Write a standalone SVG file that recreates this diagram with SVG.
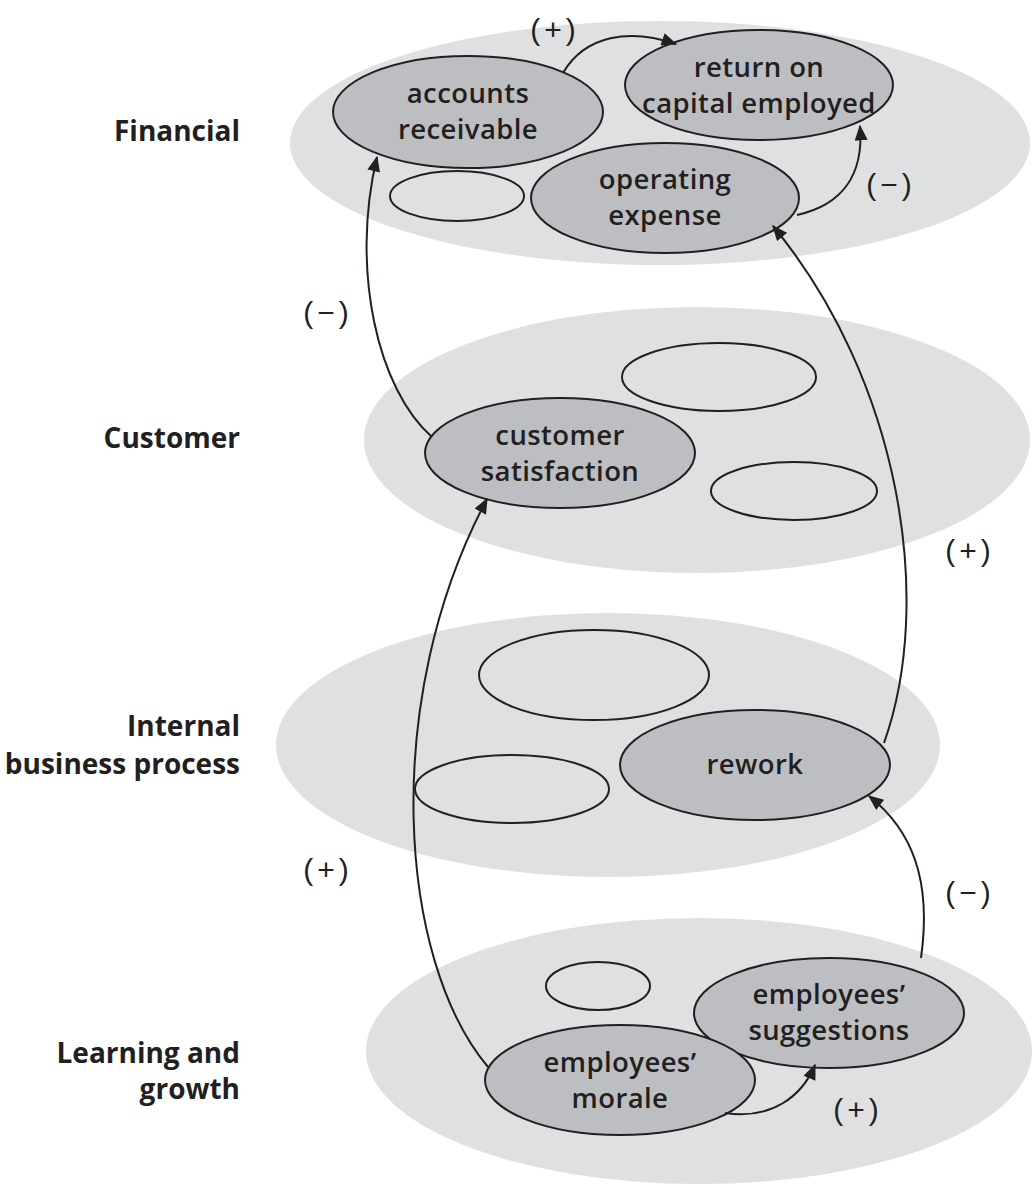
<svg xmlns="http://www.w3.org/2000/svg" width="1032" height="1185" viewBox="0 0 1032 1185">
<defs>
<style>
.layer{fill:#dfe0e1;stroke:none}
.node{fill:#bdbec1;stroke:#231f20;stroke-width:2}
.blank{fill:none;stroke:#231f20;stroke-width:2}
.nt{font-family:"Open Sans","Liberation Sans",sans-serif;font-size:27.5px;font-weight:600;letter-spacing:0.4px;fill:#231f20;text-anchor:middle}
.lt{font-family:"Open Sans","Liberation Sans",sans-serif;font-weight:bold;font-size:28px;fill:#231f20;text-anchor:end}
.sg{font-family:"Liberation Sans",sans-serif;font-size:30px;fill:#231f20;text-anchor:middle;letter-spacing:4px}
.conn{fill:none;stroke:#231f20;stroke-width:2}
</style>
<marker id="arrow" viewBox="0 0 12 10" refX="11" refY="5" markerWidth="16" markerHeight="13" markerUnits="userSpaceOnUse" orient="auto">
<path d="M0,0 L12,5 L0,10 Z" fill="#231f20"/>
</marker>
</defs>
<rect width="1032" height="1185" fill="#ffffff"/>
<g id="layers">
<ellipse class="layer" cx="660" cy="143" rx="370" ry="122"/>
<ellipse class="layer" cx="697" cy="440" rx="333" ry="133"/>
<ellipse class="layer" cx="608" cy="745" rx="332" ry="132"/>
<ellipse class="layer" cx="699" cy="1051" rx="333" ry="133"/>
</g>
<g id="layer-labels">
<text class="lt" x="240" y="141">Financial</text>
<text class="lt" x="240" y="448">Customer</text>
<text class="lt" x="240" y="736">Internal</text>
<text class="lt" x="240" y="774">business process</text>
<text class="lt" x="240" y="1063">Learning and</text>
<text class="lt" x="240" y="1099">growth</text>
</g>
<g id="node-accounts-receivable">
<ellipse class="node" cx="468" cy="112" rx="135" ry="56"/>
<text class="nt" x="468" y="103">accounts</text>
<text class="nt" x="468" y="139">receivable</text>
</g>
<g id="node-roce">
<ellipse class="node" cx="759" cy="85" rx="134" ry="55"/>
<text class="nt" x="759" y="77">return on</text>
<text class="nt" x="759" y="113">capital employed</text>
</g>
<g id="node-blank-f">
<ellipse class="blank" cx="457" cy="196" rx="67" ry="25"/>
</g>
<g id="node-operating-expense">
<ellipse class="node" cx="665" cy="198" rx="134" ry="55"/>
<text class="nt" x="665" y="189">operating</text>
<text class="nt" x="665" y="225">expense</text>
</g>
<g id="node-blank-c1">
<ellipse class="blank" cx="719" cy="377" rx="97" ry="34"/>
</g>
<g id="node-customer-satisfaction">
<ellipse class="node" cx="560" cy="453" rx="135" ry="55"/>
<text class="nt" x="560" y="445">customer</text>
<text class="nt" x="560" y="481">satisfaction</text>
</g>
<g id="node-blank-c2">
<ellipse class="blank" cx="794" cy="491" rx="83" ry="29"/>
</g>
<g id="node-blank-i1">
<ellipse class="blank" cx="594" cy="675" rx="115" ry="45"/>
</g>
<g id="node-blank-i2">
<ellipse class="blank" cx="512" cy="789" rx="97" ry="34"/>
</g>
<g id="node-rework">
<ellipse class="node" cx="755" cy="765" rx="135" ry="55"/>
<text class="nt" x="755" y="774">rework</text>
</g>
<g id="node-blank-l">
<ellipse class="blank" cx="598" cy="986" rx="52" ry="24"/>
</g>
<g id="node-employees-suggestions">
<ellipse class="node" cx="829" cy="1013" rx="135" ry="55"/>
<text class="nt" x="829" y="1004">employees’</text>
<text class="nt" x="829" y="1040">suggestions</text>
</g>
<g id="node-employees-morale">
<ellipse class="node" cx="620" cy="1080" rx="135" ry="55"/>
<text class="nt" x="620" y="1072">employees’</text>
<text class="nt" x="620" y="1108">morale</text>
</g>
<g id="connectors">
<path class="conn" marker-end="url(#arrow)" d="M563,73 C585,35 630,28 676,44"/>
<path class="conn" marker-end="url(#arrow)" d="M797,215 C842,205 864,175 860,126"/>
<path class="conn" marker-end="url(#arrow)" d="M432,437 C378,390 350,270 377,157"/>
<path class="conn" marker-end="url(#arrow)" d="M884,743 C935,600 900,380 773,226"/>
<path class="conn" marker-end="url(#arrow)" d="M488,1067 C398,960 380,700 487,499"/>
<path class="conn" marker-end="url(#arrow)" d="M921,958 C932,880 912,830 869,796"/>
<path class="conn" marker-end="url(#arrow)" d="M725,1113 C772,1120 802,1096 815,1065"/>
</g>
<g id="signs">
<text class="sg" x="555" y="40">(+)</text>
<text class="sg" x="891" y="195">(−)</text>
<text class="sg" x="328" y="323">(−)</text>
<text class="sg" x="970" y="561">(+)</text>
<text class="sg" x="328" y="880">(+)</text>
<text class="sg" x="970" y="903">(−)</text>
<text class="sg" x="858" y="1120">(+)</text>
</g>
</svg>
